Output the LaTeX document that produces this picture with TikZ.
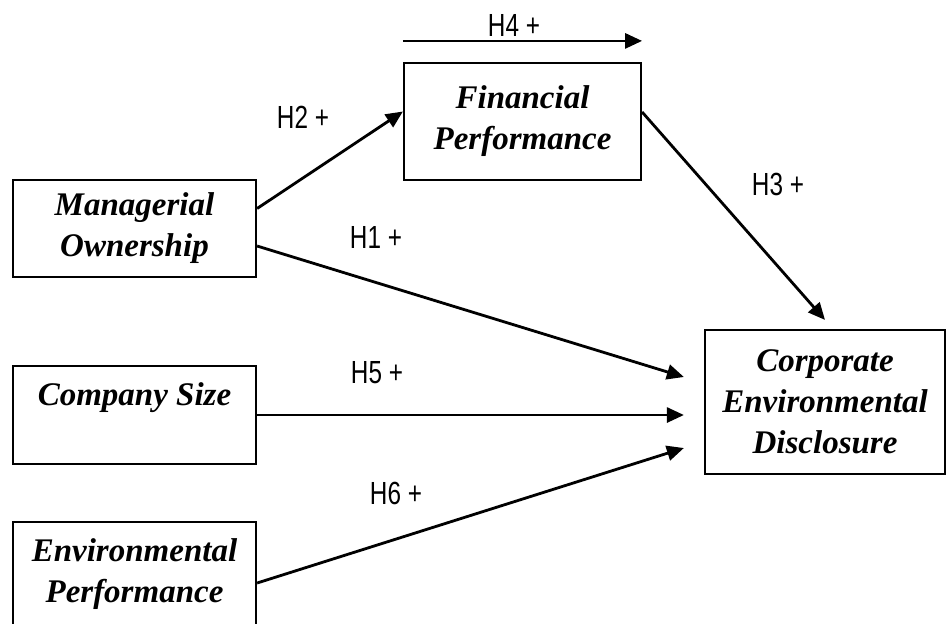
\documentclass[tikz,border=0pt]{standalone}
\usepackage{fontspec}
\setmainfont{Liberation Serif}
\newfontfamily\hypfont[FakeStretch=0.76]{Liberation Sans}
\usetikzlibrary{arrows.meta, positioning}
\tikzset{
  var/.style={rectangle, draw=black, line width=1.1pt, align=center, inner sep=0pt,
    font=\bfseries\itshape\fontsize{16.5}{20.5}\selectfont},
  hyp/.style={font=\hypfont\fontsize{16}{18}\selectfont, inner sep=0pt},
  hyparr/.style={-{Triangle[length=8.5pt, width=7.5pt]}, line width=1.4pt},
}
\begin{document}
\begin{tikzpicture}[x=0.5pt, y=-0.5pt]
    \useasboundingbox (0,0) rectangle (946,623);
    \clip (0,0) rectangle (946,623);
    \node[var, minimum width=121.5pt, minimum height=48.5pt] (mo) at (134.5,228.5) {Managerial\\Ownership};
    \node[var, minimum width=118.5pt, minimum height=58.5pt] (fp) at (522.5,121.5) {Financial\\Performance};
    \node[var, minimum width=121.5pt, minimum height=49pt] (cs) at (134.5,415) {Company Size\\ \mbox{}};
    \node[var, minimum width=121.5pt, minimum height=52pt] (ep) at (134.5,574) {Environmental\\Performance};
    \node[var, minimum width=120pt, minimum height=72pt] (ced) at (825,402) {Corporate\\Environmental\\Disclosure};
    \node[hyp] (h4) at (514,25) {H4 +};
    \node[hyp] (h2) at (303,117) {H2 +};
    \node[hyp] (h1) at (376,237) {H1 +};
    \node[hyp] (h3) at (778,184) {H3 +};
    \node[hyp] (h5) at (377,373) {H5 +};
    \node[hyp] (h6) at (396,493) {H6 +};
    \draw[hyparr] ([yshift=10.5pt]fp.north west) -- ([yshift=10.5pt]fp.north east);
    \draw[hyparr] ([yshift=10pt]mo.east) -- ([yshift=5pt]fp.west);
    \draw[hyparr] ([yshift=-8.75pt]mo.east) -- ([xshift=-10pt,yshift=12.5pt]ced.west);
    \draw[hyparr] ([yshift=4.75pt]fp.east) -- ([yshift=4.5pt]ced.north);
    \draw[hyparr] (cs.east) -- ([xshift=-10pt,yshift=-6.5pt]ced.west);
    \draw[hyparr] ([yshift=-4.5pt]ep.east) -- ([xshift=-10pt,yshift=-23pt]ced.west);
\end{tikzpicture}
\end{document}
